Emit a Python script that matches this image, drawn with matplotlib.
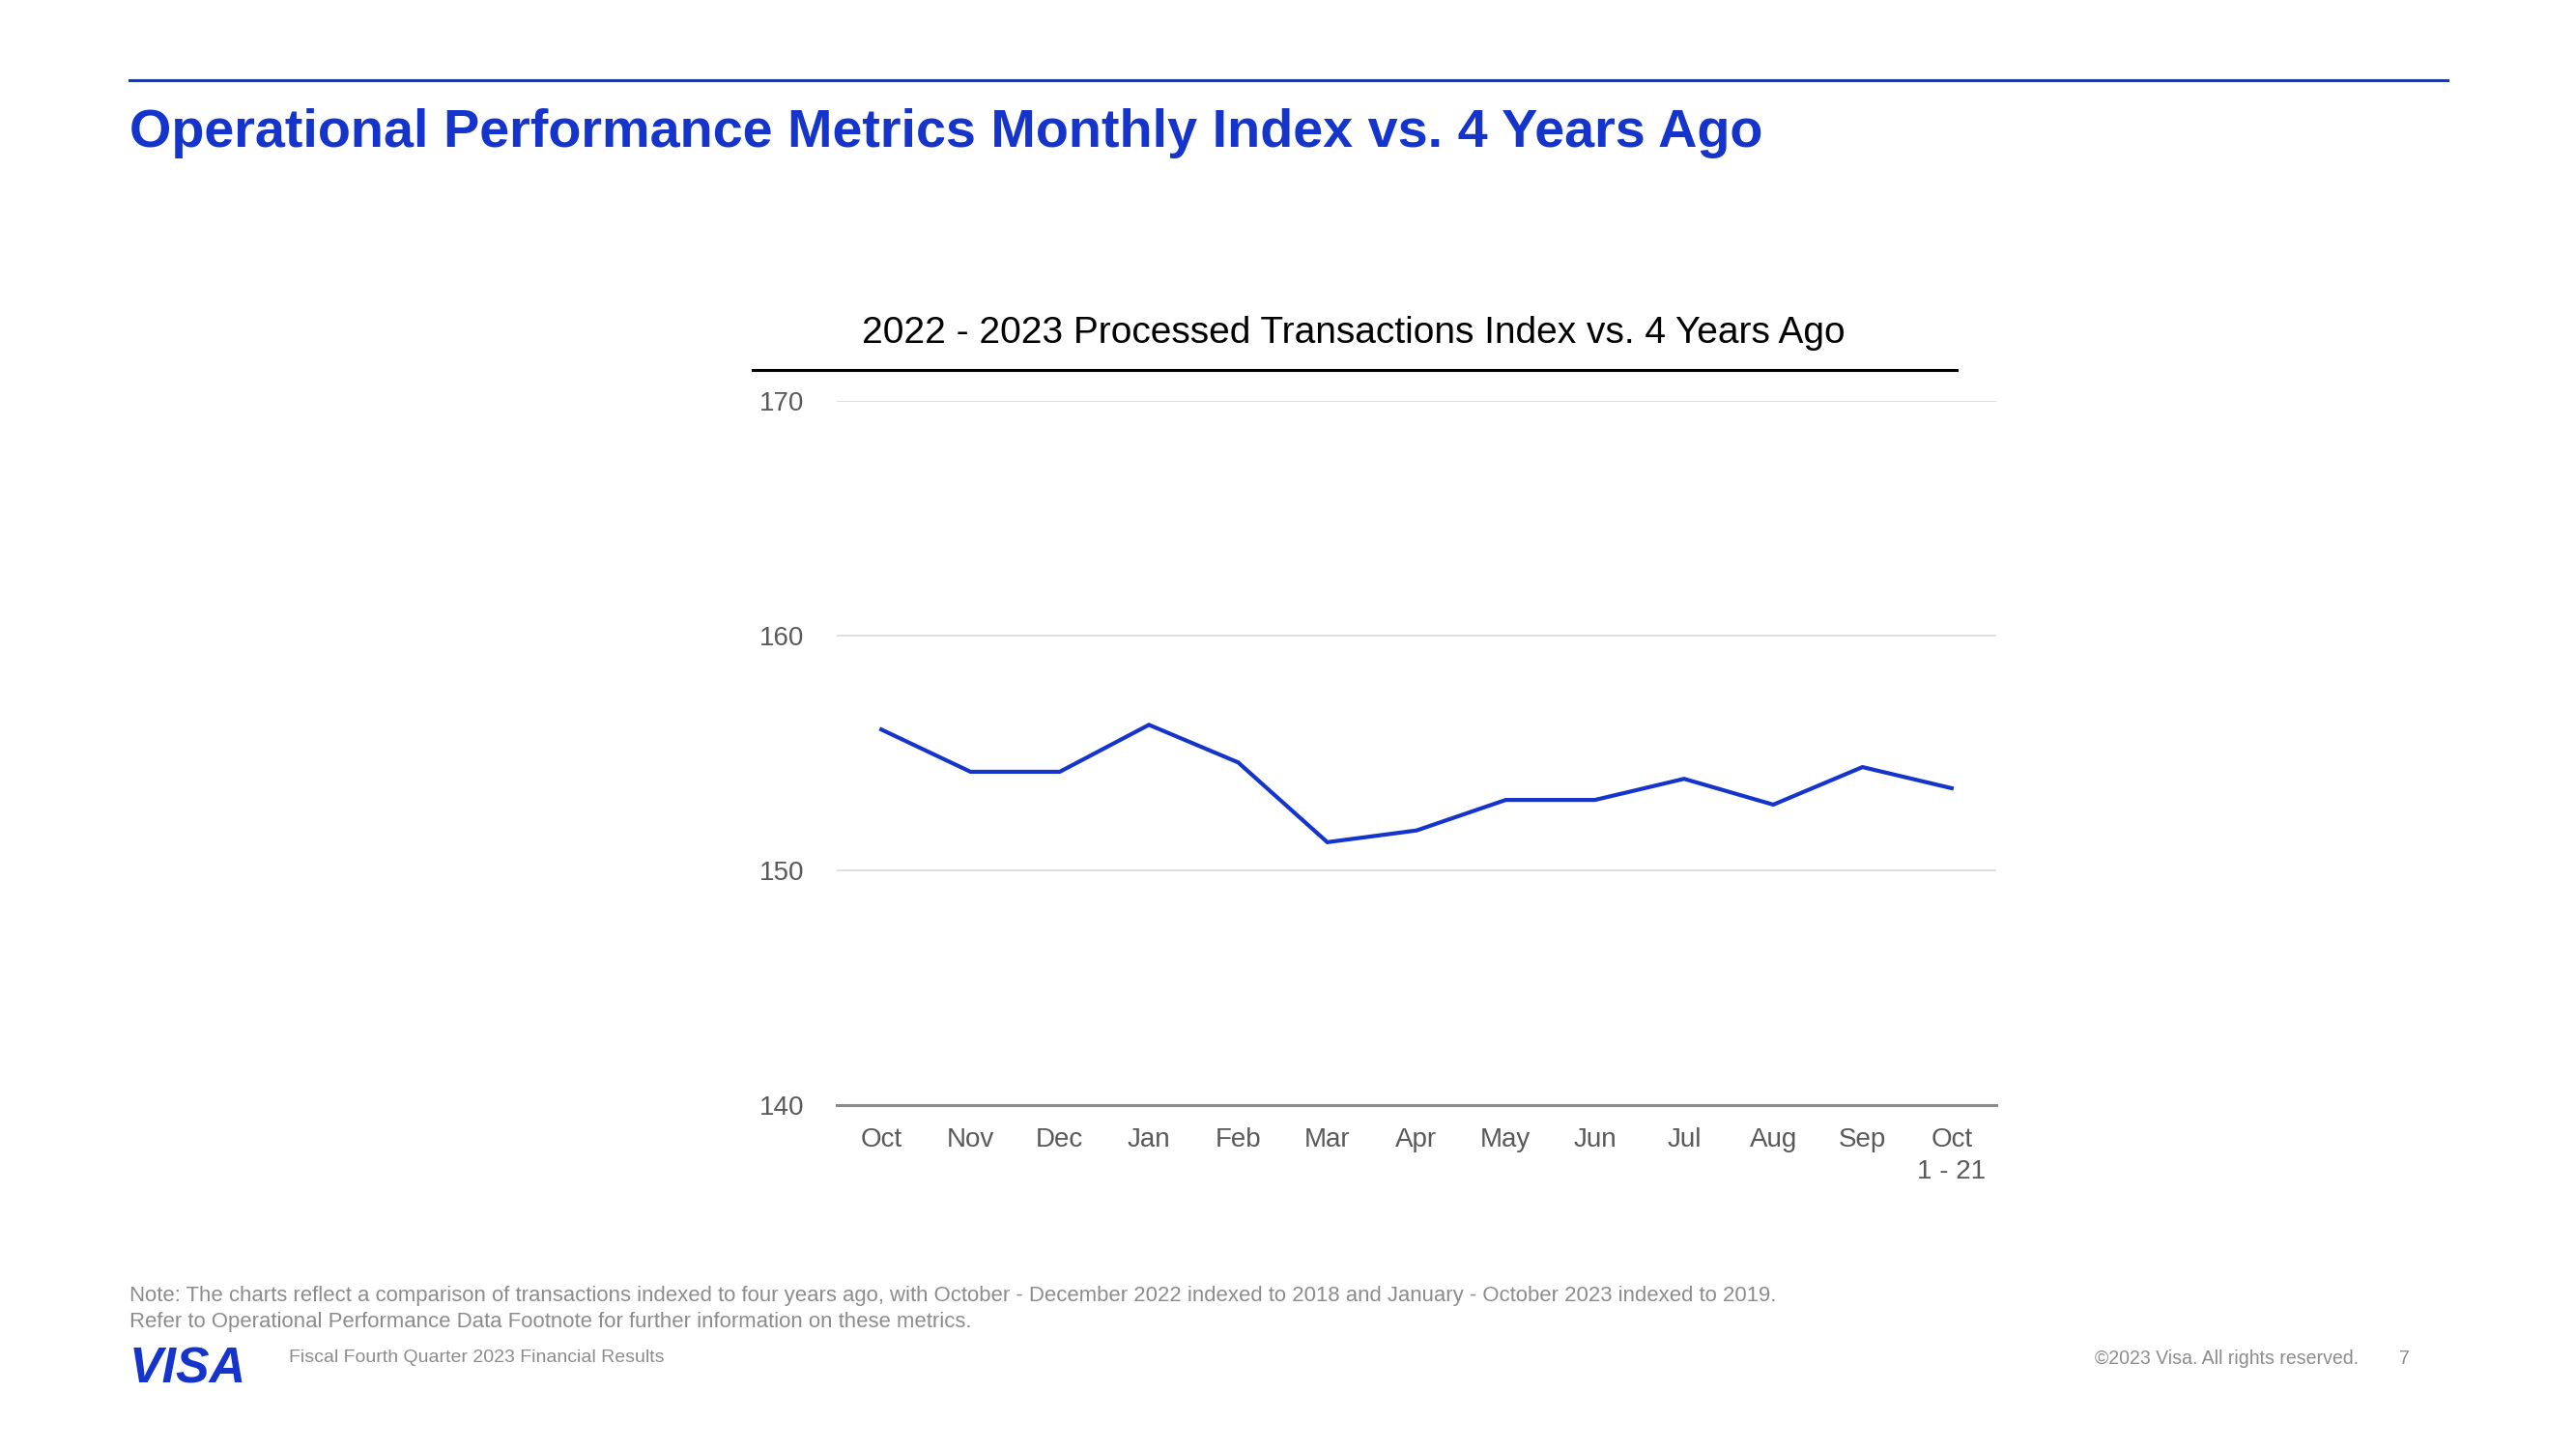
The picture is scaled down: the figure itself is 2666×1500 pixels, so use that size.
import matplotlib
matplotlib.use('Agg')
import matplotlib.pyplot as plt
from matplotlib.lines import Line2D

# ---- data ----
months = ["Oct", "Nov", "Dec", "Jan", "Feb", "Mar", "Apr", "May", "Jun",
          "Jul", "Aug", "Sep", "Oct\n1 - 21"]
index_values = [156.0, 154.2, 154.2, 156.2, 154.6, 151.2, 151.7, 153.0,
                153.0, 153.9, 152.8, 154.4, 153.5]
y_ticks = [140, 150, 160, 170]

main_title = "Operational Performance Metrics Monthly Index vs. 4 Years Ago"
chart_title = "2022 - 2023 Processed Transactions Index vs. 4 Years Ago"
note_lines = ["Note: The charts reflect a comparison of transactions indexed to four years ago, "
              "with October - December 2022 indexed to 2018 and January - October 2023 indexed to 2019.",
              "Refer to Operational Performance Data Footnote for further information on these metrics."]
footer_left = "Fiscal Fourth Quarter 2023 Financial Results"
footer_right = "\u00a92023 Visa. All rights reserved."
page_no = "7"

# ---- style ----
plt.rcParams['font.family'] = ['Liberation Sans', 'DejaVu Sans']
VISA_BLUE = '#1434CB'
W, H = 2666, 1500
fig = plt.figure(figsize=(W / 100, H / 100), dpi=100)
fig.patch.set_facecolor('white')
renderer = fig.canvas.get_renderer()


def fx(px):
    return px / W


def fy(py):
    return 1 - py / H


def fit_text(x, y, s, target_w, ha='left', va='baseline', **kw):
    t = fig.text(fx(x), fy(y), s, fontsize=20, ha=ha, va=va, **kw)
    w = t.get_window_extent(renderer).width
    t.set_fontsize(20 * target_w / w)
    return t


# top rule
fig.add_artist(Line2D([fx(134), fx(2533)], [fy(83), fy(83)], color='#21399f', lw=2.2))
# main title
fit_text(134, 152, main_title, 1690, color=VISA_BLUE, fontweight='bold')

# chart title + underline
fit_text(1401, 355, chart_title, 1016, ha='center', color='black')
fig.add_artist(Line2D([fx(779), fx(2025)], [fy(383), fy(383)], color='black', lw=2.2))

# ---- axes ----
ax = fig.add_axes([fx(866), fy(1144), (2066 - 866) / W, (1144 - 415) / H])
x = list(range(len(months)))
ax.plot(x, index_values, color=VISA_BLUE, lw=3, solid_joinstyle='miter', zorder=3)
ax.set_xlim(-0.5, len(months) - 0.5)
ax.set_ylim(140, 170)
ax.set_yticks(y_ticks)
ax.set_xticks(x)
ax.set_xticklabels(months, linespacing=1.35)
for side in ['top', 'right', 'left']:
    ax.spines[side].set_visible(False)
ax.spines['bottom'].set_color('#8a8a8a')
ax.spines['bottom'].set_linewidth(2.2)
ax.yaxis.grid(True, color='#dcdcdc', lw=1.3)
ax.set_axisbelow(True)
ax.tick_params(axis='both', length=0, labelsize=20, colors='#595959')
ax.tick_params(axis='y', pad=24)
ax.tick_params(axis='x', pad=16.5)
ax.set_facecolor('white')

# ---- footer ----
fit_text(134, 1347, note_lines[0], 1702, color='#8c8c8c')
t2 = fig.text(fx(134), fy(1374), note_lines[1], ha='left', va='baseline', color='#8c8c8c')
t2.set_fontsize(fig.texts[-2].get_fontsize())
fit_text(299, 1410, footer_left, 386, color='#8c8c8c')
fit_text(134, 1431, "VISA", 121, color=VISA_BLUE, fontweight='heavy', fontstyle='italic')
fit_text(2168, 1412, footer_right, 272, color='#8c8c8c')
t7 = fig.text(fx(2483), fy(1412), page_no, ha='left', va='baseline', color='#8c8c8c')
t7.set_fontsize(fig.texts[-2].get_fontsize())

fig.savefig('out.png', dpi=100, facecolor='white')
